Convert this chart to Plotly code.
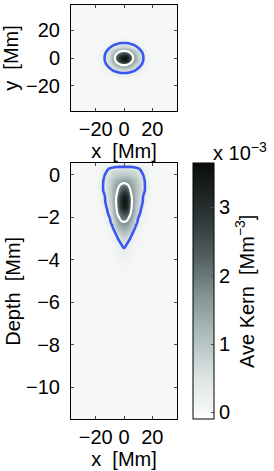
import plotly.graph_objects as go

# ---------------- data ----------------
# Horizontal slice: one quadrant, rows y = 0,2,...,16 Mm ; cols x = 0,2,...,20 Mm  (values x 1e-3 Mm^-3)
TOP_X_HALF = [0, 2, 4, 6, 8, 10, 12, 14, 16, 18, 20]
TOP_Y_HALF = [0, 2, 4, 6, 8, 10, 12, 14, 16]
TOP_QUAD = [
    [3.60, 3.40, 2.80, 2.00, 1.30, 0.85, 0.55, 0.33, 0.15, 0.050, 0.03],
    [3.23, 3.03, 2.50, 1.82, 1.21, 0.80, 0.52, 0.31, 0.14, 0.050, 0.03],
    [2.35, 2.20, 1.83, 1.34, 0.96, 0.67, 0.44, 0.25, 0.11, 0.043, 0.03],
    [1.41, 1.32, 1.15, 0.91, 0.69, 0.48, 0.31, 0.15, 0.06, 0.035, 0.03],
    [0.81, 0.78, 0.70, 0.57, 0.44, 0.30, 0.17, 0.08, 0.04, 0.030, 0.03],
    [0.46, 0.45, 0.40, 0.32, 0.25, 0.14, 0.075, 0.04, 0.03, 0.030, 0.03],
    [0.21, 0.20, 0.16, 0.13, 0.085, 0.047, 0.035, 0.03, 0.03, 0.030, 0.03],
    [0.055, 0.053, 0.05, 0.045, 0.04, 0.035, 0.03, 0.03, 0.03, 0.030, 0.03],
    [0.03, 0.03, 0.03, 0.03, 0.03, 0.03, 0.03, 0.03, 0.03, 0.030, 0.03],
]

# Vertical slice: half (x >= 0), rows depth = 0.5 ... -4.5 Mm
BOT_X_HALF = [0, 2, 4, 6, 8, 10, 12, 14, 16, 18, 20]
BOT_DEPTH = [0.5, 0.25, 0.0, -0.25, -0.5, -0.75, -1.0, -1.25, -1.5, -1.75, -2.0,
             -2.25, -2.5, -2.75, -3.0, -3.25, -3.5, -3.75, -4.0, -4.25, -4.5]
BOT_HALF = [
    [0.15, 0.15, 0.15, 0.14, 0.13, 0.12, 0.10, 0.08, 0.06, 0.04, 0.03],
    [0.60, 0.60, 0.59, 0.57, 0.53, 0.45, 0.33, 0.20, 0.10, 0.05, 0.03],
    [1.00, 0.98, 0.93, 0.85, 0.75, 0.62, 0.48, 0.33, 0.18, 0.07, 0.03],
    [1.50, 1.46, 1.36, 1.20, 1.00, 0.80, 0.60, 0.42, 0.22, 0.08, 0.03],
    [2.05, 1.95, 1.70, 1.40, 1.10, 0.85, 0.62, 0.44, 0.24, 0.09, 0.03],
    [2.80, 2.55, 1.95, 1.50, 1.15, 0.88, 0.64, 0.43, 0.23, 0.09, 0.03],
    [3.40, 3.05, 2.30, 1.60, 1.15, 0.82, 0.55, 0.30, 0.15, 0.06, 0.03],
    [3.60, 3.20, 2.40, 1.68, 1.15, 0.80, 0.50, 0.28, 0.13, 0.05, 0.03],
    [3.40, 3.05, 2.30, 1.60, 1.05, 0.70, 0.40, 0.22, 0.10, 0.04, 0.03],
    [2.70, 2.50, 2.05, 1.50, 0.98, 0.60, 0.30, 0.16, 0.07, 0.04, 0.03],
    [2.15, 2.05, 1.70, 1.25, 0.80, 0.38, 0.20, 0.10, 0.05, 0.03, 0.03],
    [1.72, 1.66, 1.42, 1.05, 0.55, 0.25, 0.13, 0.07, 0.04, 0.03, 0.03],
    [1.35, 1.30, 1.10, 0.80, 0.30, 0.15, 0.08, 0.05, 0.03, 0.03, 0.03],
    [1.00, 0.95, 0.75, 0.36, 0.18, 0.10, 0.06, 0.04, 0.03, 0.03, 0.03],
    [0.72, 0.65, 0.38, 0.20, 0.10, 0.06, 0.04, 0.03, 0.03, 0.03, 0.03],
    [0.48, 0.36, 0.22, 0.12, 0.07, 0.05, 0.04, 0.03, 0.03, 0.03, 0.03],
    [0.32, 0.26, 0.17, 0.10, 0.06, 0.04, 0.03, 0.03, 0.03, 0.03, 0.03],
    [0.20, 0.17, 0.12, 0.08, 0.05, 0.04, 0.03, 0.03, 0.03, 0.03, 0.03],
    [0.12, 0.11, 0.08, 0.06, 0.04, 0.03, 0.03, 0.03, 0.03, 0.03, 0.03],
    [0.07, 0.07, 0.06, 0.05, 0.04, 0.03, 0.03, 0.03, 0.03, 0.03, 0.03],
    [0.04, 0.04, 0.04, 0.04, 0.03, 0.03, 0.03, 0.03, 0.03, 0.03, 0.03],
]

CONTOUR_OUTER = 0.36   # blue
CONTOUR_INNER = 1.80   # white
X_TICKS = [-20, 0, 20]
Y_TICKS_TOP = [-20, 0, 20]
DEPTH_TICKS = [0, -2, -4, -6, -8, -10]
CBAR_TICKS = [0, 1, 2, 3]

# ---------------- build full tables by mirroring ----------------
def mirror_row(r):
    return r[::-1] + r[1:]

top_x = [-v for v in TOP_X_HALF[::-1]] + TOP_X_HALF[1:]
top_y = [-v for v in TOP_Y_HALF[::-1]] + TOP_Y_HALF[1:]
top_rows = TOP_QUAD[::-1] + TOP_QUAD[1:]
top_z = [mirror_row(r) for r in top_rows]

bot_x = [-v for v in BOT_X_HALF[::-1]] + BOT_X_HALF[1:]
bot_y = BOT_DEPTH[::-1]
bot_z = [mirror_row(r) for r in BOT_HALF[::-1]]

colorscale = [[0, '#ffffff'], [0.027, '#f7f8f8'], [0.16, '#dde4e4'], [0.32, '#afbfbe'],
              [0.48, '#829392'], [0.64, '#4f5e5d'], [0.80, '#2a3333'], [1, '#0a0c0c']]

FONT = "Liberation Sans, Arial, sans-serif"
FS = 20
BLUE = '#3a58f0'

fig = go.Figure()
fig.add_trace(go.Heatmap(x=top_x, y=top_y, z=top_z, coloraxis='coloraxis', zsmooth='best',
                         xaxis='x', yaxis='y', hoverinfo='skip'))
fig.add_trace(go.Heatmap(x=bot_x, y=bot_y, z=bot_z, coloraxis='coloraxis', zsmooth='best',
                         xaxis='x2', yaxis='y2', hoverinfo='skip'))

for (xx, yy, zz, xa, ya) in [(top_x, top_y, top_z, 'x', 'y'), (bot_x, bot_y, bot_z, 'x2', 'y2')]:
    for lev, col, w in [(CONTOUR_OUTER, BLUE, 2.6), (CONTOUR_INNER, 'white', 2.2)]:
        fig.add_trace(go.Contour(x=xx, y=yy, z=zz, xaxis=xa, yaxis=ya, showscale=False,
                                 contours=dict(coloring='lines', start=lev, end=lev, size=1),
                                 line=dict(color=col, width=w, smoothing=1.0),
                                 colorscale=[[0, col], [1, col]], hoverinfo='skip'))

axis_common = dict(showline=True, linecolor='black', linewidth=1, mirror='ticks',
                   ticks='inside', ticklen=3, tickcolor='#444', showgrid=False, zeroline=False,
                   automargin=False,
                   tickfont=dict(family=FONT, size=FS, color='black'))

X0, X1 = 71 / 274, 177 / 274
fig.update_layout(
    width=274, height=471, margin=dict(l=0, r=0, t=0, b=0, autoexpand=False),
    paper_bgcolor='white', plot_bgcolor='#f6f7f7', showlegend=False,
    font=dict(family=FONT, size=FS, color='black'),
    xaxis=dict(domain=[X0, X1], range=[-37.5, 37.5], anchor='y', tickvals=X_TICKS,
               title=dict(text='x\u00a0\u00a0[Mm]', standoff=0, font=dict(size=FS)), **axis_common),
    yaxis=dict(domain=[(471 - 111) / 471, (471 - 5) / 471], range=[-38, 38], anchor='x',
               tickvals=Y_TICKS_TOP, ticklabelstandoff=6,
               title=dict(text='y\u00a0\u00a0[Mm]', standoff=3, font=dict(size=FS)), **axis_common),
    xaxis2=dict(domain=[X0, X1], range=[-37.5, 37.5], anchor='y2', tickvals=X_TICKS,
                title=dict(text='x\u00a0\u00a0[Mm]', standoff=0, font=dict(size=FS)), **axis_common),
    yaxis2=dict(domain=[(471 - 419.3) / 471, (471 - 163.3) / 471], range=[-11.5, 0.55], anchor='x2',
                tickvals=DEPTH_TICKS, ticklabelstandoff=6,
                title=dict(text='Depth\u00a0\u00a0[Mm]', standoff=0, font=dict(size=FS)), **axis_common),
    coloraxis=dict(colorscale=colorscale, cmin=-0.1, cmax=3.64,
                   colorbar=dict(x=193.3 / 274, xanchor='left', y=(471 - 419.3) / 471, yanchor='bottom',
                                 len=256 / 471, lenmode='fraction', thickness=21, thicknessmode='pixels',
                                 outlinecolor='black', outlinewidth=1, tickvals=CBAR_TICKS,
                                 ticks='inside', ticklen=3, tickcolor='#555',
                                 tickfont=dict(family=FONT, size=FS, color='black'),
                                 title=dict(text='Ave Kern\u00a0\u00a0[Mm<sup>\u22123</sup>]', side='right',
                                            font=dict(family=FONT, size=FS, color='black')),
                                 xpad=0, ypad=0)),
    annotations=[dict(text='x 10<sup>\u22123</sup>', xref='paper', yref='paper',
                      x=211 / 274, y=(471 - 151) / 471, xanchor='left', yanchor='middle',
                      showarrow=False, font=dict(family=FONT, size=FS, color='black'))],
)

fig.write_html("out.html", config={'displayModeBar': False},
               post_script="document.body.style.margin='0';document.body.style.overflow='hidden';")
